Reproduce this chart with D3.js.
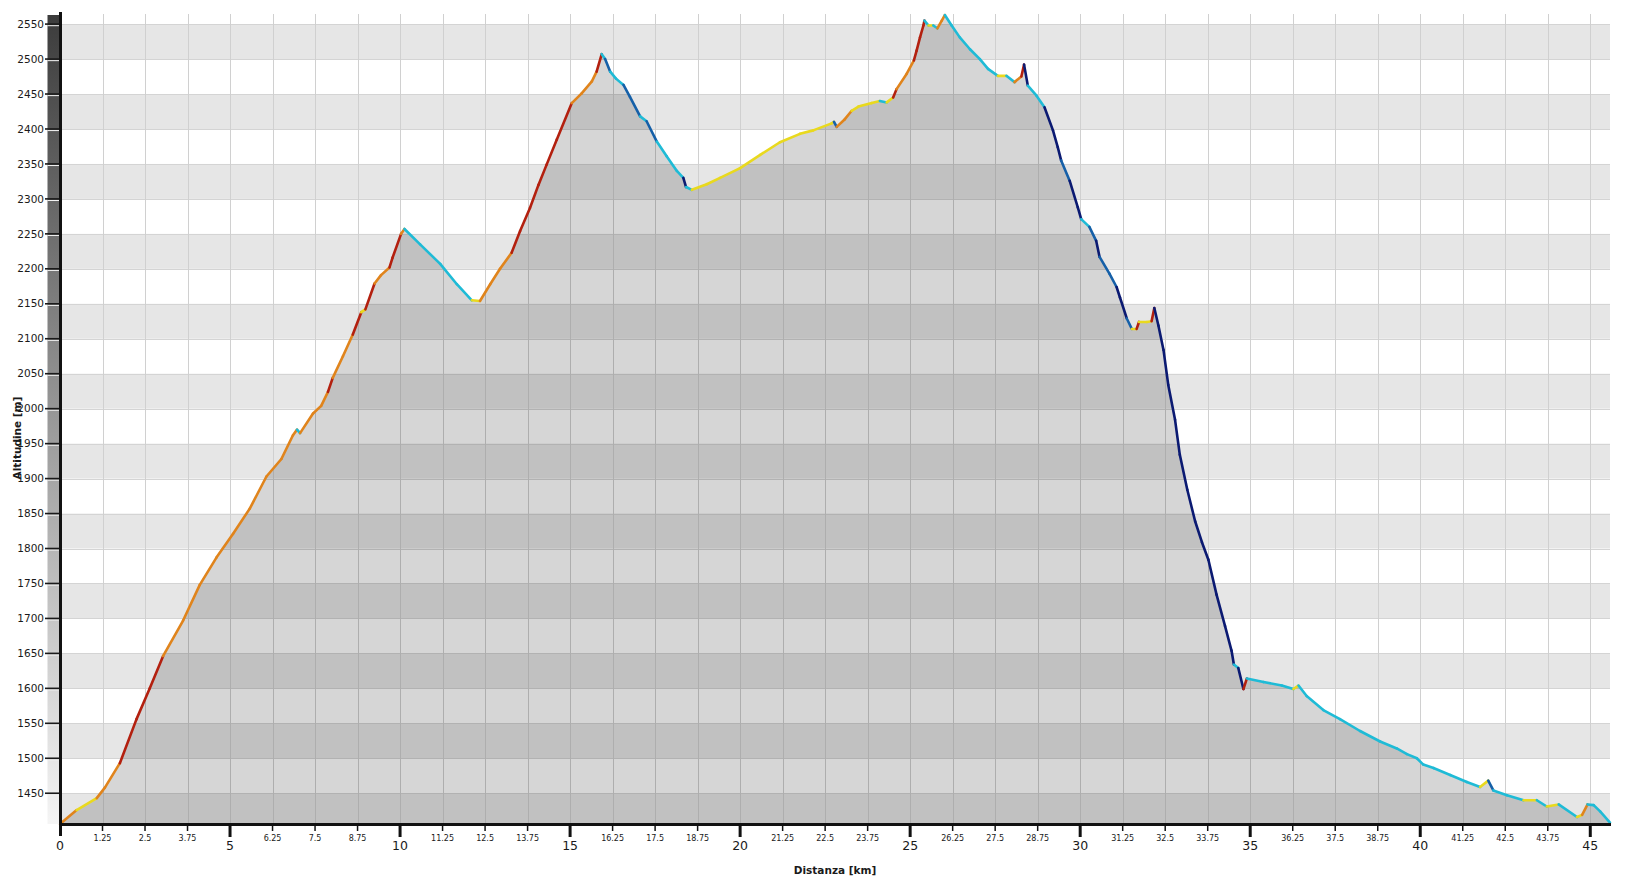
<!DOCTYPE html>
<html>
<head>
<meta charset="utf-8">
<script src="https://cdn.jsdelivr.net/npm/d3@7/dist/d3.min.js"></script>
<style>
  html, body { margin: 0; padding: 0; background: #ffffff; }
  svg { display: block; }
  text { font-family: "DejaVu Sans", Verdana, sans-serif; }
</style>
</head>
<body>
<svg id="chart" width="1638" height="877"></svg>
<script>
// ---- data ----
const distKm = [0, 0.49, 1.08, 1.32, 1.76, 2.25, 2.64, 3.03, 3.62, 4.11, 4.6, 5.09, 5.58, 6.07, 6.51, 6.85, 6.97, 7.06, 7.44, 7.68, 7.88, 8.02, 8.32, 8.61, 8.86, 8.98, 9.25, 9.44, 9.69, 9.78, 10.03, 10.13,
  10.59, 11.18, 11.67, 12.11, 12.35, 12.65, 12.94, 13.28, 13.53, 13.82, 14.07, 14.31, 14.61, 15.05, 15.34, 15.64, 15.78, 15.93, 16.03, 16.18, 16.35, 16.57, 16.76, 17.06, 17.25, 17.55, 17.84, 18.14, 18.33, 18.41, 18.58,
  19.02, 19.41, 20.0, 20.59, 21.17, 21.76, 22.15, 22.69, 22.76, 22.84, 23.08, 23.28, 23.48, 23.87, 24.11, 24.31, 24.5, 24.6, 24.9, 25.11, 25.19, 25.29, 25.39, 25.42, 25.54, 25.68, 25.8, 25.93, 26.02,
  26.22, 26.46, 26.76, 27.05, 27.29, 27.58, 27.83, 28.07, 28.27, 28.35, 28.46, 28.71, 28.95, 29.2, 29.34, 29.44, 29.69, 29.93, 30.03, 30.27, 30.47, 30.57, 30.86, 31.07, 31.17, 31.37, 31.52, 31.66, 31.73, 31.96, 32.1, 32.18,
  32.3, 32.45, 32.59, 32.79, 32.93, 33.15, 33.38, 33.58, 33.77, 34.01, 34.26, 34.45, 34.52, 34.65, 34.8, 34.9, 35.39, 35.93, 36.27, 36.42, 36.66, 37.15, 37.64, 38.23, 38.82, 39.31, 39.61, 39.9, 40.09, 40.39, 40.88,
  41.37, 41.76, 42.0, 42.15, 42.55, 43.04, 43.43, 43.72, 44.07, 44.61, 44.76, 44.92, 45.1, 45.29, 45.58];
const altM = [1406, 1426, 1443, 1458, 1493, 1556, 1600, 1646, 1697, 1748, 1787, 1821, 1857, 1903, 1928, 1962, 1970, 1965, 1993, 2004, 2024, 2044, 2075, 2106, 2138, 2142, 2179, 2191, 2202, 2216, 2250, 2257,
  2235, 2207, 2178, 2155, 2154, 2178, 2200, 2223, 2254, 2287, 2320, 2349, 2385, 2437, 2451, 2468, 2482, 2507, 2500, 2482, 2472, 2463, 2446, 2418, 2411, 2382, 2361, 2340, 2330, 2317, 2313,
  2321, 2330, 2344, 2363, 2381, 2393, 2398, 2408, 2410, 2403, 2414, 2426, 2432, 2437, 2440, 2438, 2445, 2457, 2479, 2498, 2512, 2531, 2548, 2555, 2548, 2548, 2544, 2555, 2563,
  2548, 2531, 2514, 2500, 2486, 2476, 2476, 2467, 2475, 2492, 2462, 2448, 2431, 2398, 2374, 2355, 2326, 2288, 2271, 2260, 2240, 2217, 2193, 2174, 2159, 2129, 2114, 2114, 2124, 2124, 2125, 2144,
  2119, 2084, 2034, 1984, 1934, 1884, 1839, 1809, 1784, 1734, 1689, 1654, 1634, 1629, 1599, 1614, 1609, 1604, 1599, 1604, 1589, 1569, 1556, 1539, 1524, 1514, 1506, 1500, 1491, 1486, 1476,
  1466, 1459, 1468, 1454, 1447, 1440, 1440, 1431, 1434, 1416, 1419, 1434, 1433, 1424, 1408];

const yTicks = [1450, 1500, 1550, 1600, 1650, 1700, 1750, 1800, 1850, 1900, 1950, 2000, 2050, 2100, 2150, 2200, 2250, 2300, 2350, 2400, 2450, 2500, 2550];
const xTicks = [0, 1.25, 2.5, 3.75, 5, 6.25, 7.5, 8.75, 10, 11.25, 12.5, 13.75, 15, 16.25, 17.5, 18.75, 20, 21.25, 22.5, 23.75, 25, 26.25, 27.5, 28.75, 30,
  31.25, 32.5, 33.75, 35, 36.25, 37.5, 38.75, 40, 41.25, 42.5, 43.75, 45];
const majorXTicks = [0, 5, 10, 15, 20, 25, 30, 35, 40, 45];
const xTitle = "Distanza [km]";
const yTitle = "Altitudine [m]";
// slope classes (%) and colours of the track line
const slopeBreaks = [-13, -8, -0.5, 4, 11];
const slopeColors = ["#0b1a72", "#1660a8", "#1fbbd6", "#e9d91e", "#e0841c", "#b3200f"];

// ---- layout ----
const svg = d3.select("#chart");
const mLeft = 60, mRight = 1610, mTop = 15, mBottom = 824;

const data = distKm.map((d, i) => ({ d, a: altM[i] }));
const x = d3.scaleLinear().domain([0, d3.max(distKm)]).range([mLeft, mRight]);
const y = d3.scaleLinear().domain(d3.extent(altM)).range([mBottom, mTop]);

// horizontal bands
const bandG = svg.append("g");
const bandStarts = d3.range(1400, 2600, 50);
const yMin = y.domain()[0], yMax = y.domain()[1];
bandG.selectAll("rect").data(bandStarts.filter(v => Math.abs(((v - 1450) / 50) % 2) === 1))
  .join("rect")
  .attr("x", mLeft)
  .attr("width", mRight - mLeft)
  .attr("y", v => y(Math.min(v + 50, yMax)))
  .attr("height", v => y(Math.max(v, yMin)) - y(Math.min(v + 50, yMax)))
  .attr("fill", "#e6e6e6");

// horizontal grid lines
svg.append("g").selectAll("line").data(yTicks).join("line")
  .attr("x1", mLeft).attr("x2", mRight)
  .attr("y1", v => Math.round(y(v)) + 0.5).attr("y2", v => Math.round(y(v)) + 0.5)
  .attr("stroke", "#d4d4d4").attr("stroke-width", 1);

// vertical grid lines
svg.append("g").selectAll("line").data(xTicks.filter(v => v > 0)).join("line")
  .attr("x1", v => Math.round(x(v)) + 0.5).attr("x2", v => Math.round(x(v)) + 0.5)
  .attr("y1", mTop - 1).attr("y2", mBottom)
  .attr("stroke", "#d0d0d0").attr("stroke-width", 1);

// area
const area = d3.area().x(p => x(p.d)).y0(mBottom).y1(p => y(p.a));
svg.append("path").datum(data).attr("d", area)
  .attr("fill", "#000").attr("fill-opacity", 0.16);

// colored line segments by slope
const color = d3.scaleThreshold().domain(slopeBreaks).range(slopeColors);
const segs = d3.pairs(data).map(([p, q]) => ({ p, q, s: (q.a - p.a) / ((q.d - p.d) * 1000) * 100 }));
svg.append("g").selectAll("line").data(segs).join("line")
  .attr("x1", s => x(s.p.d)).attr("y1", s => y(s.p.a))
  .attr("x2", s => x(s.q.d)).attr("y2", s => y(s.q.a))
  .attr("stroke", s => color(s.s))
  .attr("stroke-width", 2.6)
  .attr("stroke-linecap", "round");

// y-axis gradient bar
const defs = svg.append("defs");
const grad = defs.append("linearGradient").attr("id", "barGrad")
  .attr("x1", 0).attr("x2", 0).attr("y1", 0).attr("y2", 1);
grad.append("stop").attr("offset", "0%").attr("stop-color", "#3c3c3c");
grad.append("stop").attr("offset", "100%").attr("stop-color", "#f5f5f5");
svg.append("rect").attr("x", 47.5).attr("y", mTop).attr("width", 11.5).attr("height", mBottom - mTop)
  .attr("fill", "url(#barGrad)");

// y ticks and labels
const yAxisG = svg.append("g");
yAxisG.selectAll("line.hl").data(yTicks).join("line").attr("class", "hl")
  .attr("x1", 47.5).attr("x2", 59)
  .attr("y1", v => y(v) + 1.6).attr("y2", v => y(v) + 1.6)
  .attr("stroke", "#f4f4f4").attr("stroke-width", 1);
yAxisG.selectAll("line.tk").data(yTicks).join("line").attr("class", "tk")
  .attr("x1", 45).attr("x2", 60)
  .attr("y1", v => y(v)).attr("y2", v => y(v))
  .attr("stroke", "#1a1a1a").attr("stroke-width", 1.6);
yAxisG.selectAll("text").data(yTicks).join("text")
  .attr("x", 44).attr("y", v => y(v)).attr("dy", "0.35em")
  .attr("text-anchor", "end").attr("font-size", "10.5px").attr("fill", "#1a1a1a")
  .text(v => v);

// axis lines
svg.append("line").attr("x1", 60.5).attr("x2", 60.5).attr("y1", 12).attr("y2", 836)
  .attr("stroke", "#111").attr("stroke-width", 3);
svg.append("line").attr("x1", 59).attr("x2", mRight + 1).attr("y1", 824.5).attr("y2", 824.5)
  .attr("stroke", "#111").attr("stroke-width", 3);

// x ticks and labels
const xAxisG = svg.append("g");
const isMajor = v => majorXTicks.includes(v);
xAxisG.selectAll("line").data(xTicks.filter(v => v > 0)).join("line")
  .attr("x1", v => x(v)).attr("x2", v => x(v))
  .attr("y1", 824).attr("y2", v => isMajor(v) ? 837 : 831)
  .attr("stroke", "#111").attr("stroke-width", v => isMajor(v) ? 3 : 1.5);
xAxisG.selectAll("text").data(xTicks).join("text")
  .attr("x", v => x(v))
  .attr("y", v => isMajor(v) ? 846 : 838)
  .attr("dy", "0.35em")
  .attr("text-anchor", "middle")
  .attr("font-size", v => isMajor(v) ? "12.5px" : "8px")
  .attr("fill", "#1a1a1a")
  .text(v => String(v));

// titles
svg.append("text").attr("x", (mLeft + mRight) / 2).attr("y", 870).attr("dy", "0.35em")
  .attr("text-anchor", "middle").attr("font-size", "10.5px").attr("font-weight", "bold")
  .attr("fill", "#1a1a1a").text(xTitle);
svg.append("text").attr("transform", "translate(17,438) rotate(-90)").attr("dy", "0.35em")
  .attr("text-anchor", "middle").attr("font-size", "10.5px").attr("font-weight", "bold")
  .attr("fill", "#1a1a1a").text(yTitle);
</script>
</body>
</html>
